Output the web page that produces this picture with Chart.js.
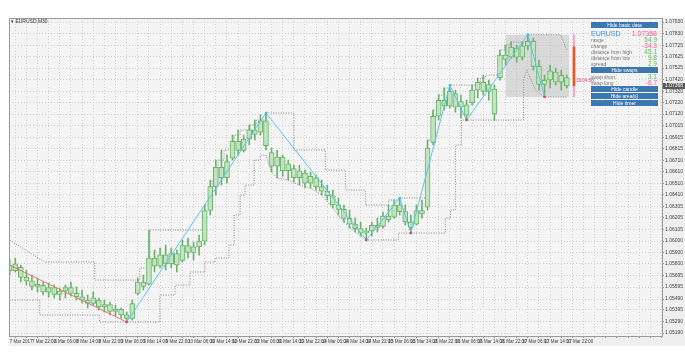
<!DOCTYPE html>
<html>
<head>
<meta charset="utf-8">
<script src="https://cdn.jsdelivr.net/npm/chart.js@4.4.1/dist/chart.umd.min.js"></script>
<style>
body { margin: 0; background: #ffffff; font-family: "Liberation Sans", Arial, sans-serif; }
#wrap { position: relative; width: 685px; height: 364px; }
#chart { position: absolute; left: 0; top: 0; }
.title { position: absolute; left: 11px; top: 18px; font-size: 5px; color: #333; }
.btn { position: absolute; left: 591px; width: 67px; height: 6px; background: #3d77b0; color: #fff;
       font-size: 5px; line-height: 6px; text-align: center; }
.row { position: absolute; left: 591px; width: 67px; height: 6px; font-size: 5px; line-height: 6px; color: #777; }
.row span { position: absolute; right: 1px; font-size: 6.5px; }
.up { color: #5cb85c; }
.dn { color: #e8608a; }
</style>
</head>
<body>
<div id="wrap">
<canvas id="chart" width="685" height="364"></canvas>
<div class="title">&#9662; EURUSD,M30</div>

<div class="btn" style="top:22px">Hide basic data</div>
<div class="row" style="top:30px;height:7px;font-size:7px;line-height:7px;color:#3f8fd2">EURUSD<span class="dn" style="font-size:7px">1.07368</span></div>
<div class="row" style="top:37px">range<span class="up">54.9</span></div>
<div class="row" style="top:43px">change<span class="dn">-34.3</span></div>
<div class="row" style="top:49px">distance from high<span class="up">45.1</span></div>
<div class="row" style="top:55px">distance from low<span class="up">9.8</span></div>
<div class="row" style="top:61px">spread<span class="up">2.9</span></div>
<div class="btn" style="top:67px">Hide swaps</div>
<div class="row" style="top:74px">swap short<span class="up">3.1</span></div>
<div class="row" style="top:80px">swap long<span class="dn">-6.7</span></div>
<div class="btn" style="top:86px">Hide candle</div>
<div class="btn" style="top:93px">Hide area(s)</div>
<div class="btn" style="top:100px">Hide timer</div>
</div>

<script>
// ======================================
// EURUSD M30 - data
// ======================================

// x unit = one label step (8 hours), candles every 2 hours
const xLabels = [
"7 Mar 2017", "7 Mar 22:00", "8 Mar 06:00", "8 Mar 14:00", "8 Mar 22:00",
"9 Mar 06:00", "9 Mar 14:00", "9 Mar 22:00", "10 Mar 06:00", "10 Mar 14:00",
"10 Mar 22:00", "13 Mar 06:00", "13 Mar 14:00", "13 Mar 22:00", "14 Mar 06:00",
"14 Mar 14:00", "14 Mar 22:00", "15 Mar 06:00", "15 Mar 14:00", "15 Mar 22:00",
"16 Mar 06:00", "16 Mar 14:00", "16 Mar 22:00", "17 Mar 06:00", "17 Mar 14:00",
"17 Mar 22:00"
];

const yTicks = [
1.05190, 1.05290, 1.05395, 1.05490, 1.05595, 1.05695, 1.05800, 1.05900, 1.06000,
1.06105, 1.06205, 1.06305, 1.06410, 1.06510, 1.06610, 1.06710, 1.06815, 1.06915,
1.07015, 1.07120, 1.07220, 1.07320, 1.07420, 1.07525, 1.07625, 1.07725, 1.07830, 1.07930
];

const candleStep = 0.25;

const candleOpen = [
1.05790, 1.05740, 1.05770, 1.05680, 1.05650, 1.05600, 1.05610, 1.05550, 1.05590, 1.05530,
1.05560, 1.05590, 1.05540, 1.05510, 1.05480, 1.05450, 1.05480, 1.05420, 1.05440, 1.05380,
1.05400, 1.05350, 1.05320, 1.05540, 1.05640, 1.05620, 1.05850, 1.05780, 1.05880, 1.05800,
1.05890, 1.05830, 1.05960, 1.05900, 1.05950, 1.06000, 1.06270, 1.06480, 1.06650, 1.06560,
1.06730, 1.06880, 1.06800, 1.06900, 1.06980, 1.06960, 1.07060, 1.06780, 1.06660, 1.06740,
1.06620, 1.06640, 1.06560, 1.06600, 1.06510, 1.06560, 1.06480, 1.06440, 1.06400, 1.06320,
1.06280, 1.06200, 1.06150, 1.06110, 1.06070, 1.06090, 1.06140, 1.06130, 1.06220, 1.06210,
1.06320, 1.06260, 1.06170, 1.06150, 1.06270, 1.06300, 1.06870, 1.07100, 1.07240, 1.07190,
1.07300, 1.07180, 1.07200, 1.07220, 1.07330, 1.07400, 1.07320, 1.07340, 1.07440, 1.07640,
1.07620, 1.07700, 1.07620, 1.07720, 1.07760, 1.07540, 1.07380, 1.07420, 1.07490, 1.07400,
1.07440
];

const candleHigh = [
1.05833, 1.05851, 1.05789, 1.05745, 1.05701, 1.05675, 1.05640, 1.05631, 1.05613, 1.05587,
1.05613, 1.05640, 1.05596, 1.05569, 1.05525, 1.05552, 1.05499, 1.05481, 1.05463, 1.05437,
1.05411, 1.05375, 1.05481, 1.05675, 1.05701, 1.06098, 1.05922, 1.05939, 1.05966, 1.05939,
1.05922, 1.06010, 1.06027, 1.05992, 1.06054, 1.06318, 1.06538, 1.06714, 1.06803, 1.06758,
1.06935, 1.06979, 1.06935, 1.07023, 1.07067, 1.07111, 1.07129, 1.06820, 1.06803, 1.06758,
1.06714, 1.06670, 1.06670, 1.06626, 1.06609, 1.06582, 1.06538, 1.06494, 1.06450, 1.06380,
1.06318, 1.06274, 1.06203, 1.06168, 1.06115, 1.06168, 1.06203, 1.06256, 1.06318, 1.06362,
1.06380, 1.06318, 1.06230, 1.06318, 1.06362, 1.06891, 1.07155, 1.07287, 1.07349, 1.07375,
1.07331, 1.07287, 1.07243, 1.07375, 1.07437, 1.07463, 1.07419, 1.07375, 1.07684, 1.07728,
1.07754, 1.07728, 1.07754, 1.07819, 1.07789, 1.07595, 1.07463, 1.07551, 1.07525, 1.07507,
1.07463
];

const candleLow = [
1.05701, 1.05728, 1.05640, 1.05613, 1.05569, 1.05552, 1.05525, 1.05507, 1.05499, 1.05481,
1.05499, 1.05516, 1.05481, 1.05455, 1.05411, 1.05437, 1.05393, 1.05375, 1.05349, 1.05340,
1.05322, 1.05287, 1.05305, 1.05525, 1.05569, 1.05613, 1.05728, 1.05763, 1.05745, 1.05763,
1.05728, 1.05816, 1.05851, 1.05833, 1.05877, 1.05966, 1.06230, 1.06406, 1.06494, 1.06512,
1.06714, 1.06758, 1.06785, 1.06847, 1.06891, 1.06935, 1.06803, 1.06609, 1.06556, 1.06573,
1.06538, 1.06521, 1.06494, 1.06468, 1.06468, 1.06450, 1.06406, 1.06362, 1.06292, 1.06230,
1.06168, 1.06115, 1.06080, 1.06045, 1.06010, 1.06045, 1.06080, 1.06115, 1.06168, 1.06203,
1.06230, 1.06142, 1.06071, 1.06142, 1.06203, 1.06274, 1.06847, 1.07067, 1.07155, 1.07173,
1.07137, 1.07084, 1.07067, 1.07199, 1.07261, 1.07287, 1.07243, 1.07067, 1.07419, 1.07551,
1.07613, 1.07578, 1.07595, 1.07684, 1.07507, 1.07331, 1.07270, 1.07349, 1.07375, 1.07331,
1.07349
];

const candleClose = [
1.05740, 1.05800, 1.05680, 1.05650, 1.05600, 1.05620, 1.05550, 1.05590, 1.05530, 1.05560,
1.05590, 1.05540, 1.05510, 1.05480, 1.05450, 1.05500, 1.05420, 1.05440, 1.05380, 1.05400,
1.05350, 1.05320, 1.05450, 1.05640, 1.05600, 1.05850, 1.05780, 1.05880, 1.05800, 1.05890,
1.05790, 1.05960, 1.05900, 1.05950, 1.06000, 1.06270, 1.06480, 1.06650, 1.06560, 1.06700,
1.06880, 1.06800, 1.06900, 1.06980, 1.06940, 1.07060, 1.06840, 1.06660, 1.06740, 1.06620,
1.06680, 1.06560, 1.06620, 1.06510, 1.06570, 1.06480, 1.06440, 1.06400, 1.06320, 1.06280,
1.06200, 1.06150, 1.06110, 1.06070, 1.06090, 1.06140, 1.06120, 1.06220, 1.06190, 1.06320,
1.06260, 1.06170, 1.06120, 1.06270, 1.06240, 1.06820, 1.07100, 1.07240, 1.07190, 1.07320,
1.07180, 1.07230, 1.07110, 1.07330, 1.07400, 1.07320, 1.07380, 1.07120, 1.07640, 1.07600,
1.07710, 1.07620, 1.07720, 1.07760, 1.07540, 1.07380, 1.07420, 1.07500, 1.07400, 1.07460,
1.07368
];

// zigzag swings
const zigzagX = [5.25, 11.5, 16.0, 17.5, 18.0, 19.75, 20.5, 23.25, 24.0];
const zigzagP = [1.05287, 1.07129, 1.06010, 1.06380, 1.06071, 1.07375, 1.07067, 1.07819, 1.07270];
const zigzagHigh = [false, true, false, true, false, true, false, true, false];
const firstLegX = [0, 5.25];
const firstLegP = [1.05789, 1.05287];

// channel (dotted)
const upperX = [0, 1.57, 3.82, 3.82, 5.84, 5.84, 6.29, 6.29, 8.76, 8.76, 9.08, 9.08, 9.35, 9.35,
  9.62, 9.62, 10.07, 10.07, 10.34, 10.34, 10.79, 10.79, 11.06, 11.06, 11.5, 11.5, 12.75, 12.75,
  14.16, 14.16, 15.06, 15.06, 15.96, 15.96, 17.0, 17.0, 17.5, 17.5, 18.74, 18.74, 18.97, 18.97,
  19.24, 19.24, 19.46, 19.46, 19.75, 19.75, 21.12, 21.12, 21.35, 21.35, 21.98, 21.98, 22.2, 22.2,
  22.47, 22.47, 23.25, 23.25, 24.72, 25.0];
const upperP = [1.06010, 1.05816, 1.05816, 1.05657, 1.05657, 1.05763, 1.05763, 1.06098, 1.06098,
  1.06318, 1.06318, 1.06538, 1.06538, 1.06714, 1.06714, 1.06803, 1.06803, 1.06935, 1.06935,
  1.06979, 1.06979, 1.07023, 1.07023, 1.07067, 1.07067, 1.07129, 1.07129, 1.06803, 1.06803,
  1.06626, 1.06626, 1.06450, 1.06450, 1.06318, 1.06318, 1.06362, 1.06362, 1.06380, 1.06380,
  1.06891, 1.06891, 1.07155, 1.07155, 1.07287, 1.07287, 1.07349, 1.07349, 1.07375, 1.07375,
  1.07437, 1.07437, 1.07463, 1.07463, 1.07684, 1.07684, 1.07728, 1.07728, 1.07754, 1.07754,
  1.07819, 1.07819, 1.07684];

const lowerX = [0, 1.35, 1.35, 4.04, 4.04, 6.74, 6.74, 7.42, 7.42, 8.09, 8.09, 8.76, 8.76, 9.21,
  9.21, 9.84, 9.84, 10.07, 10.07, 10.34, 10.34, 10.56, 10.56, 10.97, 10.97, 11.24, 11.24, 11.5,
  11.75, 12.0, 12.5, 13.0, 13.5, 14.0, 14.5, 15.0, 15.5, 16.0, 17.44, 17.44, 19.55, 19.55, 19.78,
  19.78, 20.0, 20.0, 20.27, 20.27, 23.06, 23.06, 23.2, 23.6, 24.0, 25.0];
const lowerP = [1.05481, 1.05481, 1.05349, 1.05349, 1.05287, 1.05287, 1.05525, 1.05525, 1.05613,
  1.05613, 1.05728, 1.05728, 1.05816, 1.05816, 1.05851, 1.05851, 1.05966, 1.05966, 1.06230,
  1.06230, 1.06406, 1.06406, 1.06494, 1.06494, 1.06714, 1.06714, 1.06758, 1.06758, 1.06609,
  1.06556, 1.06538, 1.06494, 1.06468, 1.06406, 1.06292, 1.06168, 1.06080, 1.06010, 1.06010,
  1.06071, 1.06071, 1.06203, 1.06203, 1.06274, 1.06274, 1.06847, 1.06847, 1.07067, 1.07067,
  1.07419, 1.07507, 1.07331, 1.07270, 1.07270];

// basic data of the day
const dayOpen = 1.07711;
const dayHigh = 1.07819;
const dayLow = 1.07270;
const lastPrice = 1.07368;
const dayStartX = 22.25;
const dayEndX = 25.1;
const timerX = 25.32;
const timerText = "19:04:58";

// ======================================
// build datasets
// ======================================

const wicks = candleHigh.map((h, i) => ({ x: i * candleStep, y: [candleLow[i], h] }));
const bodies = candleOpen.map((o, i) => ({ x: i * candleStep, y: [o, candleClose[i]] }));
const pairs = (xs, ps) => xs.map((x, i) => ({ x: x, y: ps[i] }));

const mtPlugin = {
  id: "mt",
  beforeDraw(c) {
    const { ctx, chartArea: a } = c;
    ctx.save();
    ctx.fillStyle = "#ffffff";
    ctx.fillRect(0, 0, c.width, c.height);
    ctx.fillStyle = "#efefef";
    ctx.fillRect(a.left, a.top, c.width - a.left, a.bottom - a.top + 10);
    ctx.fillStyle = "#f4f4f4";
    ctx.fillRect(a.left, a.top, a.right - a.left, a.bottom - a.top);
    ctx.restore();
  },
  afterDraw(c) {
    const { ctx, chartArea: a, scales } = c;
    ctx.save();
    ctx.strokeStyle = "#9a9a9a";
    ctx.lineWidth = 1;
    ctx.strokeRect(a.left + 0.5, a.top + 0.5, a.right - a.left, a.bottom - a.top);

    // last price on the axis
    const py = Math.round(scales.y.getPixelForValue(lastPrice));
    ctx.fillStyle = "#5a5a5a";
    ctx.fillRect(a.right + 1, py - 3, 22, 6);
    ctx.fillStyle = "#ffffff";
    ctx.font = "5px 'Liberation Sans'";
    ctx.textBaseline = "middle";
    ctx.fillText(lastPrice.toFixed(5), a.right + 3, py);

    // timer
    ctx.fillStyle = "#e0456f";
    ctx.font = "4.6px 'Liberation Sans'";
    ctx.fillText(timerText, scales.x.getPixelForValue(timerX) + 2, py - 5);
    ctx.restore();
  }
};

const ctx = document.getElementById("chart");

new Chart(ctx, {
  data: {
    datasets: [
      {
        type: "line", label: "area high",
        data: [{ x: dayStartX, y: dayHigh }, { x: dayEndX, y: dayHigh }],
        borderWidth: 0, pointRadius: 0, fill: "+1",
        backgroundColor: "rgba(190,190,190,0.5)", order: 20
      },
      {
        type: "line", label: "area low",
        data: [{ x: dayStartX, y: dayLow }, { x: dayEndX, y: dayLow }],
        borderWidth: 0, pointRadius: 0, fill: false, order: 21
      },
      {
        type: "line", label: "upper",
        data: pairs(upperX, upperP),
        borderColor: "#8c8c8c", borderWidth: 1, borderDash: [1, 1.5],
        pointRadius: 0, fill: false, tension: 0, order: 10
      },
      {
        type: "line", label: "lower",
        data: pairs(lowerX, lowerP),
        borderColor: "#8c8c8c", borderWidth: 1, borderDash: [1, 1.5],
        pointRadius: 0, fill: false, tension: 0, order: 10
      },
      {
        type: "bar", label: "EURUSD wick",
        data: wicks,
        backgroundColor: "#6bb36b", barThickness: 1, grouped: false, order: 9
      },
      {
        type: "bar", label: "EURUSD body",
        data: bodies,
        backgroundColor: "#bfe4bf", borderColor: "#6bb36b", borderWidth: 1,
        barThickness: 5, grouped: false, borderSkipped: false, order: 8
      },
      {
        type: "line", label: "first leg",
        data: pairs(firstLegX, firstLegP),
        borderColor: "#e8747c", borderWidth: 1, pointRadius: 0, fill: false, order: 5
      },
      {
        type: "line", label: "zigzag",
        data: pairs(zigzagX, zigzagP),
        borderColor: "#5cc6ee", borderWidth: 1, pointRadius: 0, fill: false, tension: 0, order: 4
      },
      {
        type: "line", label: "swings",
        data: pairs(zigzagX, zigzagP),
        showLine: false, pointStyle: "rect", pointRadius: 1.6, pointBorderWidth: 0,
        pointBackgroundColor: zigzagHigh.map(h => h ? "#2fc0f0" : "#e03a78"),
        order: 3
      },
      {
        type: "bar", label: "day range",
        data: [{ x: timerX, y: [dayLow, dayHigh] }],
        backgroundColor: "#f29ab8", barThickness: 1, grouped: false, order: 2
      },
      {
        type: "bar", label: "day body",
        data: [{ x: timerX, y: [lastPrice, dayOpen] }],
        backgroundColor: "#f2542a", barThickness: 2, grouped: false, order: 1
      }
    ]
  },
  options: {
    responsive: false,
    devicePixelRatio: 1,
    animation: false,
    layout: { padding: { left: 9, top: 18, right: 0, bottom: 18 } },
    plugins: { legend: { display: false }, tooltip: { enabled: false } },
    scales: {
      x: {
        type: "linear", min: -0.03, max: 29.27, offset: false,
        afterBuildTicks: s => {
          const t = [];
          for (let v = 0; v <= 29; v += 0.5) t.push({ value: v });
          s.ticks = t;
        },
        afterFit: s => { s.height = 10; },
        grid: { color: "#d2d2d2", drawTicks: true, tickLength: 2, tickColor: "#9a9a9a" },
        border: { display: false, dash: [1, 2] },
        ticks: {
          autoSkip: false, maxRotation: 0, align: "start", padding: 1,
          color: "#444", font: { size: 4.5, family: "Liberation Sans" },
          callback: v => (Number.isInteger(v) && v < xLabels.length) ? xLabels[v] : ""
        }
      },
      y: {
        type: "linear", position: "right", min: 1.05164, max: 1.07966,
        afterBuildTicks: s => { s.ticks = yTicks.map(v => ({ value: v })); },
        afterFit: s => { s.width = 23; },
        grid: { color: "#d2d2d2", drawTicks: true, tickLength: 2, tickColor: "#9a9a9a" },
        border: { display: false, dash: [1, 2] },
        ticks: {
          autoSkip: false, padding: 1,
          color: "#444", font: { size: 5, family: "Liberation Sans" },
          callback: v => v.toFixed(5)
        }
      }
    }
  },
  plugins: [mtPlugin]
});
</script>
</body>
</html>
